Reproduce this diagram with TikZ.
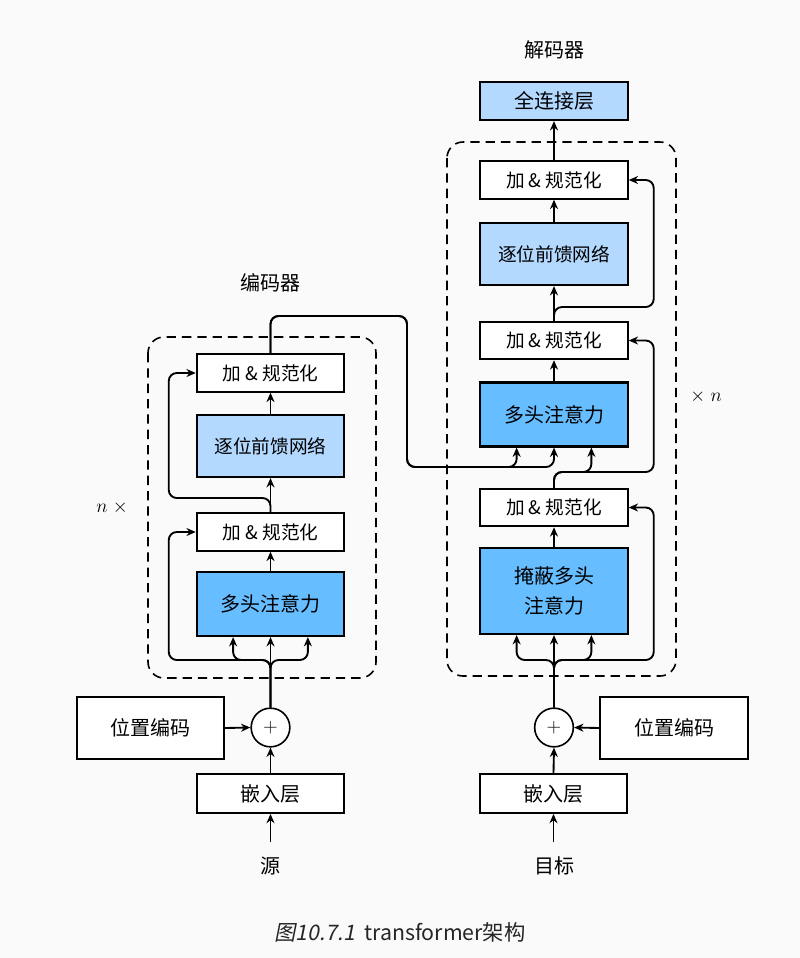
\documentclass[tikz,border=0pt]{standalone}
\usepackage{fontspec}
\setmainfont{Noto Sans CJK SC}
\newfontfamily\capslant[FakeSlant=0.2]{Noto Sans CJK SC}
\usetikzlibrary{arrows.meta,calc}
\definecolor{bg}{RGB}{250,250,250}
\definecolor{lblue}{RGB}{179,217,255}
\definecolor{mblue}{RGB}{102,189,255}
\begin{document}
\begin{tikzpicture}[x=0.75pt,y=-0.75pt,
  box/.style={draw, line width=1.6pt, minimum width=110.5pt, inner sep=0pt, fill=white, font=\fontsize{14}{16}\selectfont},
  an/.style={box, minimum height=28pt},
  ffn/.style={box, fill=lblue, minimum height=46.5pt},
  mha/.style={box, fill=mblue, minimum height=48pt, font=\fontsize{15}{20}\selectfont, align=center},
  plain/.style={box, minimum height=46.5pt, font=\fontsize{15}{18}\selectfont},
  emb/.style={box, minimum height=29pt, font=\fontsize{15}{18}\selectfont},
  plus/.style={draw, circle, line width=1.2pt, minimum size=29pt, inner sep=0pt, fill=white, font=\fontsize{15}{15}\selectfont},
  lbl/.style={font=\fontsize{15}{18}\selectfont, inner sep=0pt},
  conn/.style={line width=1.4pt},
  arr/.style={conn, -{Stealth[length=7pt,width=6pt]}},
  rc/.style={rounded corners=6pt},
  dashbox/.style={draw, line width=1.2pt, dash pattern=on 7pt off 4.5pt, rounded corners=12pt}]
\fill[bg] (0,0) rectangle (800,958);
\useasboundingbox (0,0) rectangle (800,958);

% dashed blocks
\draw[dashbox] (148,337) rectangle (376,678);
\draw[dashbox] (447,142) rectangle (676,676);

% ---------- encoder ----------
\node[an]  (eAN2) at (270.5,373) {加 \& 规范化};
\node[ffn] (eFFN) at (270.5,446) {逐位前馈网络};
\node[an]  (eAN1) at (270.5,532) {加 \& 规范化};
\node[mha] (eMHA) at (270.5,604) {多头注意力};
\node[plain] (ePE) at (150.5,728) {位置编码};
\node[plus] (ePlus) at (270.5,727.5) {$+$};
\node[emb] (eEmb) at (270.5,793.5) {嵌入层};
\coordinate (eIn) at (270.5,842);
\node[lbl] (eSrc) at (270.5,866) {源};
\node[lbl] (eLab) at (270.5,283) {编码器};
\node[lbl] (eN) at (112,508) {$n\;\times$};

% ---------- decoder ----------
\node[box, fill=lblue, minimum height=28.5pt, font=\fontsize{15}{18}\selectfont] (dFC) at (554,101) {全连接层};
\node[an]  (dAN3) at (554,180) {加 \& 规范化};
\node[ffn] (dFFN) at (554,254) {逐位前馈网络};
\node[an]  (dAN2) at (554,340.5) {加 \& 规范化};
\node[mha] (dMHA2) at (554,414.5) {多头注意力};
\node[an]  (dAN1) at (554,507.5) {加 \& 规范化};
\node[mha, minimum height=64.5pt] (dMHA1) at (554,591) {掩蔽多头\\[2pt]注意力};
\node[plus] (dPlus) at (554,727.5) {$+$};
\node[plain] (dPE) at (674,728) {位置编码};
\node[emb] (dEmb) at (553.5,793.5) {嵌入层};
\coordinate (dIn) at (553.5,842);
\node[lbl] (dTgt) at (554,866) {目标};
\node[lbl] (dLab) at (554,50) {解码器};
\node[lbl] (dN) at (706,397) {$\times\;n$};

% ---------- encoder connectors ----------
\draw[arr] (eIn) -- (eEmb.south);
\draw[arr] (eEmb.north) -- (ePlus.south);
\draw[arr] (ePE.east) -- (ePlus.west);
\draw[arr] (ePlus.north) -- (eMHA.south);
\coordinate (eS1) at (270.5,660);
\coordinate (ek1) at ($(eMHA.south west)!0.25!(eMHA.south east)$);
\coordinate (ek3) at ($(eMHA.south west)!0.75!(eMHA.south east)$);
\coordinate (eL1) at ($(eAN1.west)+(-27,0)$);
\draw[arr, rc] (ePlus.north) -- (eS1) -| (ek1);
\draw[arr, rc] (ePlus.north) -- (eS1) -| (ek3);
\draw[arr, rc] (ePlus.north) -- (eS1) -| (eL1) -- (eAN1.west);
\draw[arr] (eMHA.north) -- (eAN1.south);
\draw[arr] (eAN1.north) -- (eFFN.south);
\coordinate (eS2) at (270.5,498);
\coordinate (eL2) at ($(eAN2.west)+(-27,0)$);
\draw[arr, rc] (eAN1.north) -- (eS2) -| (eL2) -- (eAN2.west);
\draw[arr] (eFFN.north) -- (eAN2.south);

% encoder output to decoder
\coordinate (cross1) at (407,316);
\coordinate (cross2) at (407,467);
\coordinate (q1) at ($(dMHA2.south west)!0.25!(dMHA2.south east)$);
\coordinate (q3) at ($(dMHA2.south west)!0.75!(dMHA2.south east)$);
\draw[arr, rc] (eAN2.north) |- (cross1) -- (cross2) -| (q1);
\draw[arr, rc] (eAN2.north) |- (cross1) -- (cross2) -| (dMHA2.south);

% ---------- decoder connectors ----------
\draw[arr] (dIn) -- (dEmb.south);
\draw[arr] (dEmb.north) -- (dPlus.south);
\draw[arr] (dPE.west) -- (dPlus.east);
\draw[arr] (dPlus.north) -- (dMHA1.south);
\coordinate (dS1) at (554,660);
\coordinate (p1) at ($(dMHA1.south west)!0.25!(dMHA1.south east)$);
\coordinate (p3) at ($(dMHA1.south west)!0.75!(dMHA1.south east)$);
\coordinate (dR1) at ($(dAN1.east)+(25,0)$);
\draw[arr, rc] (dPlus.north) -- (dS1) -| (p1);
\draw[arr, rc] (dPlus.north) -- (dS1) -| (p3);
\draw[arr, rc] (dPlus.north) -- (dS1) -| (dR1) -- (dAN1.east);
\draw[arr] (dMHA1.north) -- (dAN1.south);
\coordinate (dMid) at (554,472);
\coordinate (dR2) at ($(dAN2.east)+(25,0)$);
\draw[arr, rc] (dAN1.north) -- (dMid) -| (q3);
\draw[arr, rc] (dAN1.north) -- (dMid) -| (dR2) -- (dAN2.east);
\draw[arr] (dMHA2.north) -- (dAN2.south);
\draw[arr] (dAN2.north) -- (dFFN.south);
\coordinate (dS3) at (554,307);
\coordinate (dR3) at ($(dAN3.east)+(25,0)$);
\draw[arr, rc] (dAN2.north) -- (dS3) -| (dR3) -- (dAN3.east);
\draw[arr] (dFFN.north) -- (dAN3.south);
\draw[arr] (dAN3.north) -- (dFC.south);

% caption
\node[font=\fontsize{16}{18}\selectfont, text=black!85, inner sep=0pt] (cap) at (400,932) {{\capslant 图10.7.1}\ \ transformer架构};
\end{tikzpicture}
\end{document}
